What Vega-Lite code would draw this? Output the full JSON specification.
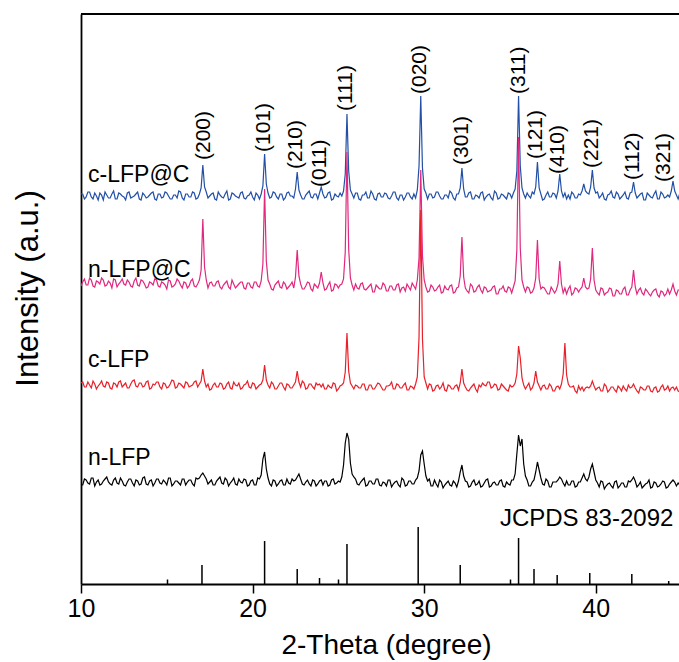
{
"$schema": "https://vega.github.io/schema/vega-lite/v6.json",
"width": 598, "height": 570,
"autosize": {"type": "none"},
"padding": {"left": 81, "top": 14, "right": 0, "bottom": 78},
"background": "white",
"config": {"view": {"stroke": null}, "font": "Liberation Sans"},
"datasets": {
"xrd": [
{"t":10.0,"a":390,"b":298,"c":201,"d":99},{"t":10.2,"a":385,"b":305,"c":197,"d":105},{"t":10.4,"a":392,"b":299,"c":202,"d":101},{"t":10.6,"a":387,"b":304,"c":196,"d":106},{"t":10.8,"a":391,"b":297,"c":200,"d":98},
{"t":11.0,"a":384,"b":302,"c":198,"d":104},{"t":11.2,"a":389,"b":306,"c":203,"d":100},{"t":11.4,"a":392,"b":298,"c":197,"d":105},{"t":11.6,"a":386,"b":303,"c":201,"d":102},{"t":11.8,"a":390,"b":296,"c":195,"d":99},
{"t":12.0,"a":385,"b":304,"c":200,"d":106},{"t":12.2,"a":391,"b":300,"c":202,"d":100},{"t":12.4,"a":388,"b":305,"c":197,"d":103},{"t":12.6,"a":384,"b":299,"c":201,"d":98},{"t":12.8,"a":392,"b":302,"c":196,"d":105},
{"t":13.0,"a":387,"b":297,"c":203,"d":101},{"t":13.2,"a":390,"b":306,"c":198,"d":104},{"t":13.4,"a":385,"b":298,"c":201,"d":99},{"t":13.6,"a":391,"b":303,"c":197,"d":106},{"t":13.8,"a":386,"b":296,"c":202,"d":100},
{"t":14.0,"a":389,"b":302,"c":195,"d":103},{"t":14.2,"a":392,"b":299,"c":200,"d":98},{"t":14.4,"a":384,"b":304,"c":202,"d":105},{"t":14.6,"a":390,"b":297,"c":197,"d":101},{"t":14.8,"a":387,"b":301,"c":201,"d":104},
{"t":15.0,"a":391,"b":295,"c":196,"d":99},{"t":15.2,"a":385,"b":303,"c":200,"d":106},{"t":15.4,"a":389,"b":298,"c":203,"d":100},{"t":15.6,"a":386,"b":305,"c":197,"d":103},{"t":15.8,"a":392,"b":299,"c":200,"d":99},
{"t":16.0,"a":384,"b":302,"c":196,"d":105},{"t":16.2,"a":390,"b":296,"c":201,"d":102},{"t":16.4,"a":387,"b":303,"c":198,"d":104},{"t":16.6,"a":391,"b":298,"c":202,"d":98},{"t":16.8,"a":386,"b":300,"c":197,"d":105},
{"t":16.9,"a":390,"b":304,"c":200,"d":106},{"t":17.0,"a":396,"b":314,"c":203,"d":109},{"t":17.1,"a":419,"b":365,"c":215,"d":111},{"t":17.2,"a":397,"b":317,"c":203,"d":108},{"t":17.3,"a":392,"b":304,"c":197,"d":105},
{"t":17.4,"a":386,"b":296,"c":200,"d":100},{"t":17.6,"a":390,"b":302,"c":195,"d":104},{"t":17.8,"a":385,"b":298,"c":201,"d":99},{"t":18.0,"a":392,"b":303,"c":197,"d":105},{"t":18.2,"a":387,"b":295,"c":200,"d":101},
{"t":18.4,"a":390,"b":301,"c":196,"d":106},{"t":18.6,"a":384,"b":297,"c":202,"d":98},{"t":18.8,"a":391,"b":304,"c":195,"d":103},{"t":19.0,"a":388,"b":296,"c":199,"d":100},{"t":19.2,"a":386,"b":300,"c":201,"d":105},
{"t":19.4,"a":392,"b":302,"c":196,"d":101},{"t":19.6,"a":385,"b":295,"c":200,"d":104},{"t":19.8,"a":389,"b":301,"c":197,"d":99},{"t":20.0,"a":387,"b":296,"c":201,"d":104},{"t":20.2,"a":391,"b":302,"c":195,"d":99},
{"t":20.4,"a":385,"b":297,"c":199,"d":105},{"t":20.5,"a":390,"b":303,"c":200,"d":109},{"t":20.6,"a":398,"b":320,"c":204,"d":125},{"t":20.7,"a":430,"b":395,"c":219,"d":132},{"t":20.8,"a":400,"b":323,"c":204,"d":115},
{"t":20.9,"a":391,"b":304,"c":199,"d":106},{"t":21.0,"a":386,"b":300,"c":196,"d":100},{"t":21.2,"a":392,"b":294,"c":200,"d":104},{"t":21.4,"a":387,"b":301,"c":195,"d":98},{"t":21.6,"a":390,"b":297,"c":201,"d":103},
{"t":21.8,"a":384,"b":302,"c":197,"d":99},{"t":22.0,"a":391,"b":295,"c":200,"d":105},{"t":22.2,"a":388,"b":299,"c":196,"d":100},{"t":22.4,"a":386,"b":296,"c":199,"d":103},{"t":22.5,"a":395,"b":307,"c":202,"d":104},
{"t":22.6,"a":412,"b":334,"c":213,"d":107},{"t":22.7,"a":394,"b":308,"c":202,"d":110},{"t":22.8,"a":389,"b":300,"c":197,"d":105},{"t":23.0,"a":385,"b":295,"c":201,"d":99},{"t":23.2,"a":391,"b":302,"c":196,"d":104},
{"t":23.4,"a":387,"b":295,"c":200,"d":98},{"t":23.6,"a":390,"b":300,"c":195,"d":103},{"t":23.8,"a":385,"b":296,"c":199,"d":100},{"t":23.9,"a":391,"b":301,"c":200,"d":103},{"t":24.0,"a":397,"b":312,"c":197,"d":104},
{"t":24.1,"a":390,"b":301,"c":200,"d":99},{"t":24.2,"a":386,"b":294,"c":195,"d":103},{"t":24.4,"a":391,"b":299,"c":199,"d":98},{"t":24.6,"a":384,"b":293,"c":196,"d":104},{"t":24.8,"a":390,"b":300,"c":200,"d":100},
{"t":25.0,"a":387,"b":296,"c":195,"d":103},{"t":25.1,"a":391,"b":299,"c":198,"d":102},{"t":25.2,"a":388,"b":300,"c":199,"d":107},{"t":25.3,"a":393,"b":305,"c":201,"d":119},{"t":25.4,"a":410,"b":332,"c":212,"d":141},
{"t":25.5,"a":470,"b":432,"c":251,"d":151},{"t":25.6,"a":413,"b":335,"c":213,"d":145},{"t":25.7,"a":394,"b":306,"c":201,"d":121},{"t":25.8,"a":390,"b":299,"c":198,"d":110},{"t":25.9,"a":386,"b":294,"c":195,"d":107},
{"t":26.0,"a":391,"b":300,"c":199,"d":105},{"t":26.2,"a":385,"b":295,"c":196,"d":99},{"t":26.4,"a":389,"b":301,"c":200,"d":104},{"t":26.6,"a":392,"b":294,"c":194,"d":98},{"t":26.8,"a":386,"b":298,"c":199,"d":103},
{"t":27.0,"a":390,"b":292,"c":195,"d":100},{"t":27.2,"a":384,"b":299,"c":198,"d":105},{"t":27.4,"a":391,"b":295,"c":200,"d":99},{"t":27.6,"a":387,"b":301,"c":194,"d":102},{"t":27.8,"a":390,"b":293,"c":198,"d":98},
{"t":28.0,"a":385,"b":298,"c":199,"d":104},{"t":28.2,"a":392,"b":294,"c":195,"d":100},{"t":28.4,"a":386,"b":299,"c":200,"d":103},{"t":28.6,"a":389,"b":292,"c":196,"d":97},{"t":28.8,"a":384,"b":297,"c":199,"d":104},
{"t":29.0,"a":391,"b":300,"c":194,"d":99},{"t":29.2,"a":387,"b":294,"c":198,"d":103},{"t":29.4,"a":390,"b":298,"c":195,"d":100},{"t":29.5,"a":386,"b":295,"c":200,"d":104},{"t":29.6,"a":394,"b":304,"c":207,"d":106},
{"t":29.7,"a":418,"b":326,"c":247,"d":113},{"t":29.8,"a":488,"b":414,"c":374,"d":129},{"t":29.9,"a":416,"b":328,"c":245,"d":133},{"t":30.0,"a":395,"b":304,"c":207,"d":120},{"t":30.1,"a":391,"b":297,"c":201,"d":108},
{"t":30.2,"a":385,"b":292,"c":195,"d":103},{"t":30.4,"a":390,"b":299,"c":199,"d":98},{"t":30.6,"a":387,"b":293,"c":194,"d":104},{"t":30.8,"a":392,"b":297,"c":199,"d":97},{"t":31.0,"a":385,"b":291,"c":197,"d":102},
{"t":31.2,"a":389,"b":298,"c":194,"d":99},{"t":31.4,"a":386,"b":294,"c":199,"d":103},{"t":31.6,"a":391,"b":299,"c":195,"d":98},{"t":31.8,"a":384,"b":292,"c":198,"d":101},{"t":32.0,"a":390,"b":297,"c":194,"d":103},
{"t":32.1,"a":396,"b":308,"c":201,"d":112},{"t":32.2,"a":416,"b":347,"c":215,"d":119},{"t":32.3,"a":395,"b":307,"c":201,"d":108},{"t":32.4,"a":387,"b":296,"c":197,"d":103},{"t":32.6,"a":391,"b":291,"c":193,"d":97},
{"t":32.8,"a":385,"b":298,"c":198,"d":102},{"t":33.0,"a":389,"b":293,"c":195,"d":99},{"t":33.2,"a":386,"b":299,"c":199,"d":103},{"t":33.4,"a":392,"b":291,"c":201,"d":98},{"t":33.6,"a":387,"b":296,"c":198,"d":104},
{"t":33.8,"a":390,"b":293,"c":202,"d":97},{"t":34.0,"a":384,"b":297,"c":197,"d":101},{"t":34.2,"a":391,"b":290,"c":199,"d":99},{"t":34.4,"a":386,"b":295,"c":195,"d":103},{"t":34.6,"a":389,"b":298,"c":198,"d":98},
{"t":34.8,"a":385,"b":292,"c":194,"d":102},{"t":35.0,"a":390,"b":296,"c":199,"d":99},{"t":35.2,"a":391,"b":297,"c":198,"d":104},{"t":35.3,"a":395,"b":303,"c":201,"d":110},{"t":35.4,"a":413,"b":334,"c":210,"d":130},
{"t":35.5,"a":488,"b":447,"c":238,"d":149},{"t":35.6,"a":418,"b":336,"c":226,"d":138},{"t":35.7,"a":396,"b":304,"c":206,"d":145},{"t":35.8,"a":390,"b":297,"c":199,"d":120},{"t":35.9,"a":386,"b":292,"c":195,"d":108},
{"t":36.0,"a":391,"b":297,"c":198,"d":104},{"t":36.2,"a":386,"b":291,"c":194,"d":98},{"t":36.4,"a":390,"b":296,"c":201,"d":104},{"t":36.5,"a":397,"b":306,"c":213,"d":112},{"t":36.6,"a":422,"b":344,"c":202,"d":122},
{"t":36.7,"a":396,"b":305,"c":198,"d":114},{"t":36.8,"a":390,"b":295,"c":194,"d":106},{"t":37.0,"a":385,"b":296,"c":199,"d":99},{"t":37.2,"a":392,"b":290,"c":195,"d":103},{"t":37.4,"a":387,"b":297,"c":198,"d":97},
{"t":37.6,"a":390,"b":291,"c":193,"d":102},{"t":37.7,"a":386,"b":294,"c":197,"d":102},{"t":37.8,"a":393,"b":300,"c":198,"d":104},{"t":37.9,"a":410,"b":323,"c":195,"d":107},{"t":38.0,"a":393,"b":300,"c":200,"d":105},
{"t":38.1,"a":387,"b":291,"c":210,"d":101},{"t":38.2,"a":391,"b":296,"c":241,"d":98},{"t":38.3,"a":385,"b":290,"c":209,"d":103},{"t":38.4,"a":389,"b":295,"c":200,"d":99},{"t":38.6,"a":392,"b":289,"c":197,"d":103},
{"t":38.8,"a":386,"b":296,"c":193,"d":97},{"t":39.0,"a":390,"b":292,"c":198,"d":102},{"t":39.1,"a":389,"b":295,"c":194,"d":102},{"t":39.2,"a":393,"b":297,"c":197,"d":106},{"t":39.3,"a":400,"b":306,"c":193,"d":110},
{"t":39.4,"a":393,"b":297,"c":196,"d":105},{"t":39.5,"a":391,"b":295,"c":197,"d":103},{"t":39.6,"a":390,"b":296,"c":196,"d":107},{"t":39.7,"a":397,"b":305,"c":198,"d":115},{"t":39.8,"a":414,"b":336,"c":203,"d":120},
{"t":39.9,"a":396,"b":304,"c":198,"d":112},{"t":40.0,"a":391,"b":294,"c":194,"d":104},{"t":40.2,"a":386,"b":289,"c":197,"d":97},{"t":40.4,"a":391,"b":295,"c":193,"d":102},{"t":40.6,"a":384,"b":291,"c":198,"d":98},
{"t":40.8,"a":390,"b":296,"c":194,"d":101},{"t":41.0,"a":387,"b":288,"c":197,"d":96},{"t":41.2,"a":392,"b":294,"c":192,"d":103},{"t":41.4,"a":385,"b":290,"c":196,"d":98},{"t":41.6,"a":389,"b":295,"c":198,"d":101},
{"t":41.8,"a":386,"b":289,"c":193,"d":97},{"t":42.0,"a":391,"b":294,"c":196,"d":102},{"t":42.1,"a":392,"b":297,"c":197,"d":104},{"t":42.2,"a":402,"b":314,"c":200,"d":107},{"t":42.3,"a":391,"b":297,"c":196,"d":103},
{"t":42.4,"a":386,"b":290,"c":193,"d":97},{"t":42.6,"a":390,"b":296,"c":197,"d":102},{"t":42.8,"a":384,"b":289,"c":194,"d":98},{"t":43.0,"a":391,"b":293,"c":198,"d":101},{"t":43.2,"a":387,"b":288,"c":193,"d":96},
{"t":43.4,"a":390,"b":294,"c":196,"d":102},{"t":43.6,"a":385,"b":289,"c":192,"d":97},{"t":43.8,"a":392,"b":293,"c":197,"d":100},{"t":44.0,"a":386,"b":288,"c":194,"d":102},{"t":44.2,"a":389,"b":295,"c":198,"d":97},
{"t":44.3,"a":387,"b":290,"c":193,"d":100},{"t":44.4,"a":393,"b":294,"c":196,"d":102},{"t":44.5,"a":403,"b":300,"c":197,"d":104},{"t":44.6,"a":393,"b":293,"c":194,"d":102},{"t":44.7,"a":389,"b":289,"c":197,"d":98},
{"t":44.8,"a":385,"b":294,"c":193,"d":101},{"t":45.0,"a":390,"b":290,"c":196,"d":97},
{"t":10.1,"a":390,"b":302,"c":202,"d":99},{"t":10.3,"a":387,"b":299,"c":197,"d":104},{"t":10.5,"a":392,"b":306,"c":199,"d":100},{"t":10.7,"a":385,"b":298,"c":203,"d":106},{"t":10.9,"a":388,"b":303,"c":195,"d":102},
{"t":11.1,"a":391,"b":300,"c":200,"d":99},{"t":11.3,"a":384,"b":304,"c":198,"d":103},{"t":11.5,"a":389,"b":299,"c":202,"d":107},{"t":11.7,"a":386,"b":301,"c":196,"d":100},{"t":11.9,"a":393,"b":305,"c":201,"d":104},
{"t":12.1,"a":385,"b":297,"c":197,"d":101},{"t":12.3,"a":390,"b":302,"c":203,"d":106},{"t":12.5,"a":387,"b":300,"c":199,"d":99},{"t":12.7,"a":391,"b":304,"c":196,"d":102},{"t":12.9,"a":386,"b":298,"c":200,"d":105},
{"t":13.1,"a":388,"b":303,"c":204,"d":98},{"t":13.3,"a":392,"b":299,"c":197,"d":103},{"t":13.5,"a":384,"b":304,"c":201,"d":100},{"t":13.7,"a":389,"b":300,"c":198,"d":107},{"t":13.9,"a":387,"b":297,"c":203,"d":99},
{"t":14.1,"a":391,"b":301,"c":196,"d":104},{"t":14.3,"a":385,"b":305,"c":199,"d":101},{"t":14.5,"a":390,"b":298,"c":202,"d":105},{"t":14.7,"a":386,"b":302,"c":195,"d":100},{"t":14.9,"a":392,"b":299,"c":200,"d":102},
{"t":15.1,"a":388,"b":304,"c":197,"d":106},{"t":15.3,"a":385,"b":297,"c":204,"d":98},{"t":15.5,"a":389,"b":300,"c":196,"d":103},{"t":15.7,"a":393,"b":303,"c":201,"d":101},{"t":15.9,"a":386,"b":296,"c":198,"d":105},
{"t":16.1,"a":390,"b":301,"c":202,"d":99},{"t":16.3,"a":387,"b":298,"c":197,"d":104},{"t":16.5,"a":392,"b":305,"c":199,"d":100},{"t":16.7,"a":385,"b":297,"c":203,"d":106},
{"t":17.5,"a":388,"b":301,"c":194,"d":102},{"t":17.7,"a":391,"b":298,"c":199,"d":99},{"t":17.9,"a":384,"b":302,"c":197,"d":103},{"t":18.1,"a":389,"b":297,"c":201,"d":107},{"t":18.3,"a":386,"b":299,"c":195,"d":100},
{"t":18.5,"a":393,"b":303,"c":200,"d":104},{"t":18.7,"a":385,"b":295,"c":196,"d":101},{"t":18.9,"a":390,"b":300,"c":202,"d":106},{"t":19.1,"a":387,"b":298,"c":198,"d":99},{"t":19.3,"a":391,"b":302,"c":195,"d":102},
{"t":19.5,"a":386,"b":296,"c":199,"d":105},{"t":19.7,"a":388,"b":301,"c":203,"d":98},{"t":19.9,"a":392,"b":297,"c":196,"d":103},{"t":20.1,"a":384,"b":302,"c":200,"d":99},{"t":20.3,"a":389,"b":298,"c":197,"d":106},
{"t":21.1,"a":387,"b":295,"c":202,"d":98},{"t":21.3,"a":391,"b":299,"c":195,"d":103},{"t":21.5,"a":385,"b":303,"c":198,"d":100},{"t":21.7,"a":390,"b":296,"c":201,"d":104},{"t":21.9,"a":386,"b":300,"c":194,"d":99},
{"t":22.1,"a":392,"b":297,"c":199,"d":101},{"t":22.3,"a":388,"b":302,"c":196,"d":105},{"t":22.9,"a":385,"b":295,"c":203,"d":100},{"t":23.1,"a":389,"b":298,"c":195,"d":102},{"t":23.3,"a":393,"b":301,"c":200,"d":100},
{"t":23.5,"a":386,"b":293,"c":197,"d":104},{"t":23.7,"a":390,"b":298,"c":201,"d":98},{"t":24.3,"a":387,"b":295,"c":195,"d":103},{"t":24.5,"a":392,"b":302,"c":197,"d":99},{"t":24.7,"a":385,"b":294,"c":201,"d":105},
{"t":24.9,"a":388,"b":299,"c":193,"d":101},{"t":26.1,"a":391,"b":296,"c":198,"d":100},{"t":26.3,"a":384,"b":300,"c":196,"d":102},{"t":26.5,"a":389,"b":295,"c":200,"d":106},{"t":26.7,"a":386,"b":296,"c":194,"d":99},
{"t":26.9,"a":393,"b":300,"c":199,"d":103},{"t":27.1,"a":385,"b":292,"c":195,"d":100},{"t":27.3,"a":390,"b":297,"c":201,"d":105},{"t":27.5,"a":387,"b":295,"c":197,"d":98},{"t":27.7,"a":391,"b":299,"c":194,"d":101},
{"t":27.9,"a":386,"b":293,"c":198,"d":104},{"t":28.1,"a":388,"b":298,"c":202,"d":97},{"t":28.3,"a":392,"b":294,"c":195,"d":102},{"t":28.5,"a":384,"b":300,"c":199,"d":99},{"t":28.7,"a":389,"b":296,"c":196,"d":106},
{"t":28.9,"a":387,"b":293,"c":201,"d":98},{"t":29.1,"a":391,"b":297,"c":194,"d":103},{"t":29.3,"a":385,"b":301,"c":197,"d":100},{"t":30.3,"a":390,"b":293,"c":200,"d":105},{"t":30.5,"a":386,"b":297,"c":193,"d":98},
{"t":30.7,"a":392,"b":294,"c":198,"d":100},{"t":30.9,"a":388,"b":299,"c":195,"d":104},{"t":31.1,"a":385,"b":292,"c":201,"d":96},{"t":31.3,"a":389,"b":295,"c":193,"d":101},{"t":31.5,"a":393,"b":298,"c":198,"d":99},
{"t":31.7,"a":386,"b":291,"c":195,"d":103},{"t":31.9,"a":390,"b":296,"c":199,"d":97},{"t":32.5,"a":387,"b":293,"c":194,"d":102},{"t":32.7,"a":392,"b":300,"c":196,"d":98},{"t":32.9,"a":385,"b":292,"c":200,"d":104},
{"t":33.1,"a":388,"b":297,"c":192,"d":100},{"t":33.3,"a":391,"b":294,"c":197,"d":97},{"t":33.5,"a":384,"b":297,"c":199,"d":101},{"t":33.7,"a":389,"b":292,"c":202,"d":105},{"t":33.9,"a":386,"b":294,"c":196,"d":98},
{"t":34.1,"a":393,"b":298,"c":200,"d":102},{"t":34.3,"a":385,"b":290,"c":194,"d":99},{"t":34.5,"a":390,"b":295,"c":200,"d":104},{"t":34.7,"a":387,"b":293,"c":196,"d":97},{"t":34.9,"a":391,"b":297,"c":193,"d":100},
{"t":35.1,"a":386,"b":291,"c":197,"d":104},{"t":36.1,"a":388,"b":296,"c":201,"d":98},{"t":36.3,"a":392,"b":292,"c":196,"d":102},{"t":36.9,"a":384,"b":297,"c":198,"d":100},{"t":37.1,"a":389,"b":293,"c":195,"d":105},
{"t":37.3,"a":387,"b":290,"c":200,"d":97},{"t":37.5,"a":391,"b":294,"c":193,"d":102},{"t":38.5,"a":385,"b":298,"c":197,"d":99},{"t":38.7,"a":390,"b":291,"c":198,"d":103},{"t":38.9,"a":386,"b":295,"c":191,"d":98},
{"t":40.1,"a":392,"b":291,"c":196,"d":101},{"t":40.3,"a":388,"b":296,"c":193,"d":103},{"t":40.5,"a":385,"b":289,"c":200,"d":95},{"t":40.7,"a":389,"b":292,"c":192,"d":100},{"t":40.9,"a":393,"b":295,"c":197,"d":98},
{"t":41.1,"a":386,"b":288,"c":194,"d":102},{"t":41.3,"a":390,"b":293,"c":198,"d":96},{"t":41.5,"a":387,"b":290,"c":193,"d":101},{"t":41.7,"a":392,"b":297,"c":195,"d":97},{"t":41.9,"a":385,"b":289,"c":199,"d":103},
{"t":42.5,"a":388,"b":294,"c":191,"d":99},{"t":42.7,"a":391,"b":291,"c":196,"d":96},{"t":42.9,"a":384,"b":295,"c":194,"d":100},{"t":43.1,"a":389,"b":290,"c":198,"d":104},{"t":43.3,"a":386,"b":292,"c":192,"d":97},
{"t":43.5,"a":393,"b":295,"c":197,"d":101},{"t":43.7,"a":385,"b":287,"c":193,"d":98},{"t":43.9,"a":390,"b":292,"c":199,"d":103},{"t":44.1,"a":387,"b":290,"c":195,"d":96},{"t":44.9,"a":391,"b":294,"c":192,"d":99}
],
"sticks": [
{"t":17.05,"h":19},{"t":20.7,"h":43},{"t":22.6,"h":15},{"t":23.9,"h":6},{"t":25.5,"h":40},{"t":29.65,"h":57},{"t":32.1,"h":19},
{"t":35.5,"h":46},{"t":36.4,"h":15},{"t":37.75,"h":9},{"t":39.65,"h":11},{"t":42.1,"h":10},{"t":44.25,"h":3}
],
"hkl": [
{"label":"(200)","t":17.15,"y":424},{"label":"(101)","t":20.68,"y":432},{"label":"(210)","t":22.55,"y":415},{"label":"(011)","t":23.92,"y":397},
{"label":"(111)","t":25.47,"y":473},{"label":"(020)","t":29.78,"y":490},{"label":"(301)","t":32.2,"y":419},{"label":"(311)","t":35.5,"y":490},
{"label":"(121)","t":36.52,"y":425},{"label":"(410)","t":37.78,"y":410},{"label":"(221)","t":39.78,"y":416},{"label":"(112)","t":42.17,"y":404},{"label":"(321)","t":43.98,"y":402}
],
"names": [
{"label":"c-LFP@C","t":10.41,"y":409},{"label":"n-LFP@C","t":10.41,"y":314},{"label":"c-LFP","t":10.41,"y":224},{"label":"n-LFP","t":10.41,"y":126}
],
"ref": [{"label":"JCPDS 83-2092","t":44.52,"y":65}]
},
"layer": [
{"data": {"name": "xrd"},
 "mark": {"type": "line", "color": "#2350a6", "strokeWidth": 1.2, "clip": true},
 "encoding": {
  "x": {"field": "t", "type": "quantitative", "title": "2-Theta (degree)", "scale": {"domain": [10, 44.85], "nice": false, "zero": false},
   "axis": {"orient": "bottom", "values": [10,15,20,25,30,35,40], "labelExpr": "datum.value % 10 === 0 ? datum.label : ''",
    "tickSize": {"condition": {"test": "datum.value % 10 !== 0", "value": -5}, "value": 9},
    "tickColor": "black", "tickWidth": 1.5, "domainColor": "black", "domainWidth": 1.8, "grid": false,
    "labelFontSize": 25, "labelColor": "black", "labelFont": "Liberation Sans", "labelPadding": 3, "labelFlush": false, "labelOverlap": false,
    "titleFontSize": 28, "titleFontWeight": "normal", "titleColor": "black", "titleFont": "Liberation Sans",
    "titleX": 305, "titleY": 69, "titleBaseline": "alphabetic", "titleAlign": "center"}},
  "y": {"field": "a", "type": "quantitative", "title": "Intensity (a.u.)", "scale": {"domain": [0, 570], "nice": false, "zero": false},
   "axis": {"orient": "left", "ticks": false, "labels": false, "grid": false, "domain": true, "domainColor": "black", "domainWidth": 1.8,
    "titleFontSize": 31, "titleFontWeight": "normal", "titleColor": "black", "titleFont": "Liberation Sans",
    "titleX": -44, "titleY": 274, "titleBaseline": "alphabetic", "titleAlign": "center", "titleAngle": 270}}
 }},
{"data": {"name": "xrd"},
 "mark": {"type": "line", "color": "#e0287e", "strokeWidth": 1.2, "clip": true},
 "encoding": {"x": {"field": "t", "type": "quantitative", "title": "2-Theta (degree)"}, "y": {"field": "b", "type": "quantitative", "title": "Intensity (a.u.)"}}},
{"data": {"name": "xrd"},
 "mark": {"type": "line", "color": "#e8202a", "strokeWidth": 1.2, "clip": true},
 "encoding": {"x": {"field": "t", "type": "quantitative", "title": "2-Theta (degree)"}, "y": {"field": "c", "type": "quantitative", "title": "Intensity (a.u.)"}}},
{"data": {"name": "xrd"},
 "mark": {"type": "line", "color": "black", "strokeWidth": 1.2, "clip": true},
 "encoding": {"x": {"field": "t", "type": "quantitative", "title": "2-Theta (degree)"}, "y": {"field": "d", "type": "quantitative", "title": "Intensity (a.u.)"}}},
{"data": {"name": "sticks"},
 "mark": {"type": "rule", "color": "black", "strokeWidth": 1.5},
 "encoding": {
  "x": {"field": "t", "type": "quantitative", "title": "2-Theta (degree)"},
  "y": {"field": "h", "type": "quantitative", "title": "Intensity (a.u.)"}, "y2": {"datum": 0}}},
{"data": {"name": "ref"},
 "mark": {"type": "rule", "color": "black", "strokeWidth": 1.8},
 "encoding": {"y": {"datum": 570, "type": "quantitative", "title": "Intensity (a.u.)"}}},
{"data": {"name": "hkl"},
 "mark": {"type": "text", "angle": 270, "align": "left", "baseline": "middle", "fontSize": 21, "font": "Liberation Sans", "color": "black"},
 "encoding": {"x": {"field": "t", "type": "quantitative", "title": "2-Theta (degree)"}, "y": {"field": "y", "type": "quantitative", "title": "Intensity (a.u.)"}, "text": {"field": "label"}}},
{"data": {"name": "names"},
 "mark": {"type": "text", "align": "left", "baseline": "middle", "fontSize": 23, "font": "Liberation Sans", "color": "black"},
 "encoding": {"x": {"field": "t", "type": "quantitative", "title": "2-Theta (degree)"}, "y": {"field": "y", "type": "quantitative", "title": "Intensity (a.u.)"}, "text": {"field": "label"}}},
{"data": {"name": "ref"},
 "mark": {"type": "text", "align": "right", "baseline": "middle", "fontSize": 24, "font": "Liberation Sans", "color": "black"},
 "encoding": {"x": {"field": "t", "type": "quantitative", "title": "2-Theta (degree)"}, "y": {"field": "y", "type": "quantitative", "title": "Intensity (a.u.)"}, "text": {"field": "label"}}}
]
}
